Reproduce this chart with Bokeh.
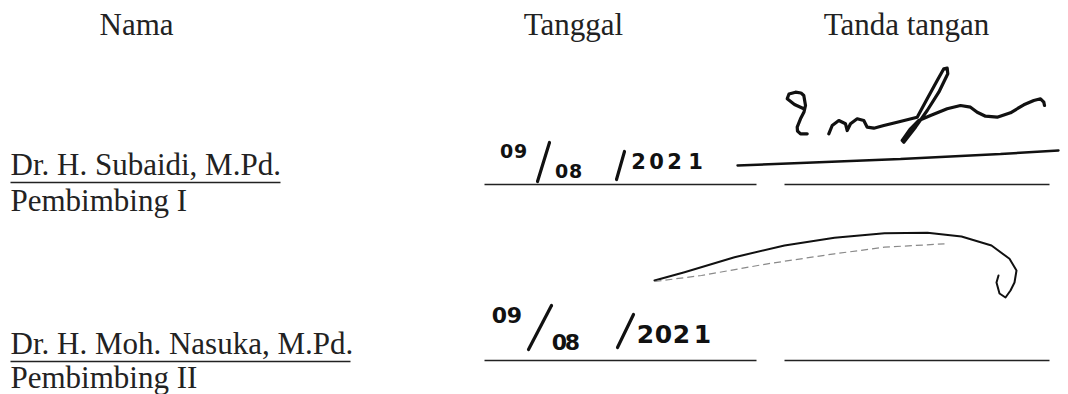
from bokeh.plotting import figure
from bokeh.models import Range1d
from bokeh.embed import file_html
from bokeh.resources import INLINE
from bokeh.core.properties import value

# ---------------- content ----------------
headers = ["Nama", "Tanggal", "Tanda tangan"]
names = ["Dr. H. Subaidi, M.Pd.", "Dr. H. Moh. Nasuka, M.Pd."]
roles = ["Pembimbing I", "Pembimbing II"]
dates = ["09/08/2021", "09/08/2021"]

# ---------------- layout (page pixel coordinates) ----------------
W, H = 1068, 394
SERIF_PX = 31
BASE_K = 0.4          # glyph y -> alphabetic baseline correction (fraction of font size)
header_x = [136, 573, 906]
header_y = 36
name_x = 10
name_y = [176, 355]
role_y = [212, 389]
underline_end = [280, 350]
underline_dy = 6
date_line = (484, 756)
sig_line = (784, 1049)
line_y = [184, 360]

# handwritten date glyph placement per row: (char centres, baseline, size px)
day_pos = [([506, 520], 158, 19), ([499, 514], 323, 22)]
month_pos = [([561, 575], 178, 19), ([559, 572], 350, 22)]
year_pos = [([638, 656, 674, 695], 169, 21), ([645, 663, 681, 702], 343, 25)]
slash1 = [((537, 181), (549, 142)), ((528, 349), (551, 305))]
slash2 = [((616, 179), (624, 151)), ((617, 347), (633, 314))]

# signature 1 strokes
sig1_a_x = [803.3, 794, 786.7, 788.5, 795, 800.5, 803.3, 805, 803.5, 800, 796.7, 797, 800, 806.7]
sig1_a_y = [108.3, 104, 98.3, 93.5, 91.7, 92.5, 95, 105, 111.5, 118.3, 126.7, 130.5, 133.3, 133.3]
sig1_b_x = [828.3, 831.7, 838.3, 845, 846.7, 850, 856.7, 863.3, 866.7, 873.3, 883.3,
            896.7, 916.7, 926.7, 936.7, 943.3, 946.7, 947.3, 938.3, 926.7, 915, 903.3,
            901.7, 910, 918.3, 930, 946.7, 960, 970, 976.7, 985, 996.7, 1010, 1023.3,
            1033.3, 1040, 1043.3, 1044]
sig1_b_y = [133.3, 125, 120, 123.3, 130, 123.3, 118.3, 120, 126.7, 127.7, 125,
            121.7, 116.7, 98.3, 80, 68.3, 67.7, 73.3, 91.7, 110, 126.7, 141.7,
            140, 128.3, 120, 115, 108.3, 105, 106.7, 111.7, 115.7, 116.7, 112.3, 104.3,
            100, 98.3, 101.7, 105]
sig1_u_x = [737, 800, 900, 1000, 1058]
sig1_u_y = [165, 162.5, 158.5, 153.5, 150]

# signature 2 strokes
sig2_top_x = [654, 684, 734, 784, 834, 884, 927, 961, 991, 1009, 1016, 1014, 1010, 1005, 999, 996, 998]
sig2_top_y = [280, 271.7, 256.7, 245, 237.3, 232.7, 232.3, 236, 245, 258.3, 270, 282, 290, 297, 293, 282, 275]
sig2_low_x = [654, 701, 767, 834, 884, 944]
sig2_low_y = [281, 275, 263.3, 253.3, 246.7, 243.3]

INK = "#222222"
PEN = "#111111"


def at_base(ys, size):
    return [y - BASE_K * size for y in ys]


p = figure(width=W, height=H, x_range=Range1d(0, W), y_range=Range1d(H, 0),
           output_backend="svg", toolbar_location=None,
           x_axis_type=None, y_axis_type=None, min_border=0,
           outline_line_color=None, background_fill_color="white",
           border_fill_color="white")
p.grid.visible = False

serif = dict(text_font=value("Liberation Serif"), text_font_size=f"{SERIF_PX}px",
             text_color=INK, text_baseline="alphabetic")

# headers
p.text(x=header_x, y=at_base([header_y] * len(headers), SERIF_PX), text=headers,
       text_align="center", **serif)
# names and roles
p.text(x=[name_x] * len(names), y=at_base(name_y, SERIF_PX), text=names, text_align="left", **serif)
p.text(x=[name_x] * len(roles), y=at_base(role_y, SERIF_PX), text=roles, text_align="left", **serif)
# underlines of names
p.segment(x0=[name_x] * len(names), y0=[y + underline_dy for y in name_y],
          x1=underline_end, y1=[y + underline_dy for y in name_y],
          line_color=INK, line_width=1.6)
# date / signature lines
p.segment(x0=[date_line[0]] * 2, y0=line_y, x1=[date_line[1]] * 2, y1=line_y,
          line_color=INK, line_width=1.6)
p.segment(x0=[sig_line[0]] * 2, y0=line_y, x1=[sig_line[1]] * 2, y1=line_y,
          line_color=INK, line_width=1.6)

# handwritten dates
hand = dict(text_font=value("DejaVu Sans"), text_font_style="bold", text_color=PEN,
            text_align="center", text_baseline="alphabetic")
for row, d in enumerate(dates):
    day, month, year = d.split("/")
    for part, pos in ((day, day_pos[row]), (month, month_pos[row]), (year, year_pos[row])):
        xs, base, size = pos
        p.text(x=xs, y=at_base([base] * len(part), size), text=list(part),
               text_font_size=f"{size}px", **hand)
    for (a, b) in (slash1[row], slash2[row]):
        p.line(x=[a[0], b[0]], y=[a[1], b[1]], line_color=PEN, line_width=3.2, line_cap="round")

# signatures
p.multi_line(xs=[sig1_a_x, sig1_b_x], ys=[sig1_a_y, sig1_b_y], line_color=PEN,
             line_width=3.2, line_join="round", line_cap="round")
p.line(x=sig1_u_x, y=sig1_u_y, line_color=PEN, line_width=2.4, line_cap="round")
p.line(x=sig2_top_x, y=sig2_top_y, line_color=PEN, line_width=2, line_join="round", line_cap="round")
p.line(x=sig2_low_x, y=sig2_low_y, line_color="#8a8a8a", line_width=1.2, line_dash="7 4")

open("out.html", "w").write(file_html(p, INLINE))
